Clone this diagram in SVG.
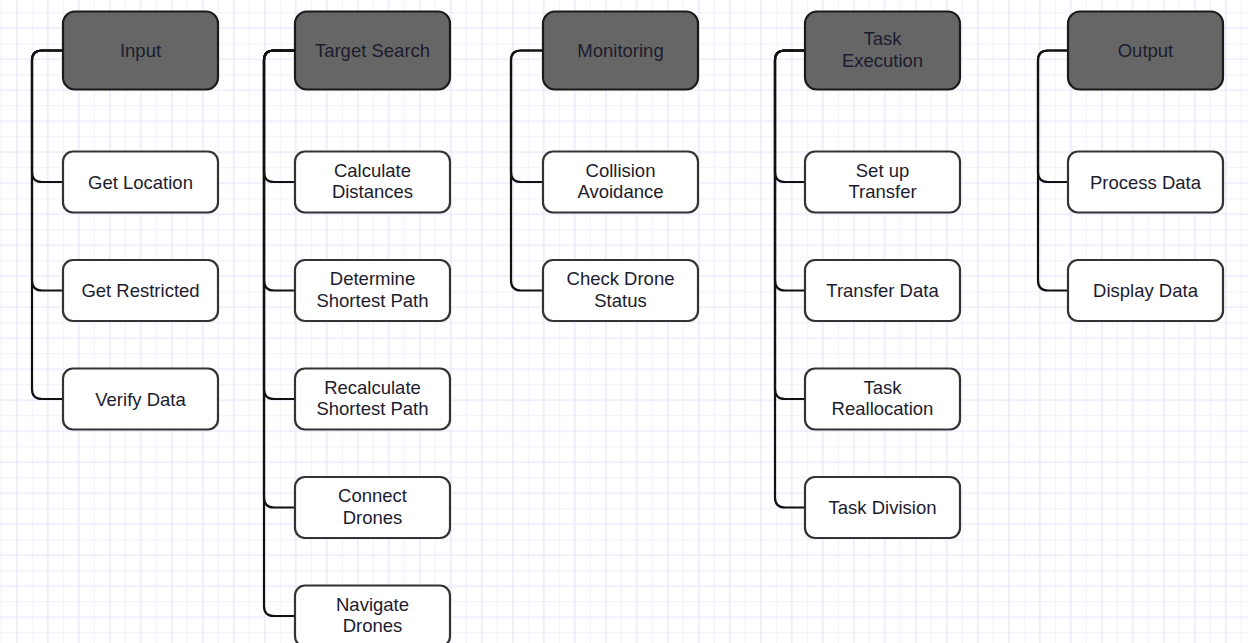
<svg xmlns="http://www.w3.org/2000/svg" width="1248" height="643" viewBox="0 0 1248 643">
<style>
.hdr{fill:#666666;stroke:#1a1a1a;stroke-width:2.2}
.box{fill:#ffffff;stroke:#333333;stroke-width:2.2}
.lbl{font-family:"Liberation Sans",Arial,sans-serif;font-size:18.5px;fill:#1c1c2e;text-anchor:middle}
.con{fill:none;stroke:#111111;stroke-width:2.2}
</style>
<defs>
<pattern id="grid" patternUnits="userSpaceOnUse" x="0.8" y="12.2" width="31" height="31">
<path d="M0.5 0V31M0 0.5H31" stroke="#f1f1ff" stroke-width="1.2" fill="none"/>
<path d="M16 0V31M0 16H31" stroke="#e4e4fb" stroke-width="1.2" fill="none"/>
</pattern>
</defs>
<rect width="1248" height="643" fill="#ffffff"/>
<rect width="1248" height="643" fill="url(#grid)"/>

<g id="connectors">
<!-- Input trunk x=32 -->
<path class="con" d="M63 50.5H42Q32 50.5 32 60.5V172Q32 182 42 182H63"/>
<path class="con" d="M63 50.5H42Q32 50.5 32 60.5V280.5Q32 290.5 42 290.5H63"/>
<path class="con" d="M63 50.5H42Q32 50.5 32 60.5V389Q32 399 42 399H63"/>
<!-- Target Search trunk x=264 -->
<path class="con" d="M295 50.5H274Q264 50.5 264 60.5V172Q264 182 274 182H295"/>
<path class="con" d="M295 50.5H274Q264 50.5 264 60.5V280.5Q264 290.5 274 290.5H295"/>
<path class="con" d="M295 50.5H274Q264 50.5 264 60.5V389Q264 399 274 399H295"/>
<path class="con" d="M295 50.5H274Q264 50.5 264 60.5V497.5Q264 507.5 274 507.5H295"/>
<path class="con" d="M295 50.5H274Q264 50.5 264 60.5V606Q264 616 274 616H295"/>
<!-- Monitoring trunk x=511 -->
<path class="con" d="M543 50.5H521Q511 50.5 511 60.5V172Q511 182 521 182H543"/>
<path class="con" d="M543 50.5H521Q511 50.5 511 60.5V280.5Q511 290.5 521 290.5H543"/>
<!-- Task Execution trunk x=775 -->
<path class="con" d="M805 50.5H785Q775 50.5 775 60.5V172Q775 182 785 182H805"/>
<path class="con" d="M805 50.5H785Q775 50.5 775 60.5V280.5Q775 290.5 785 290.5H805"/>
<path class="con" d="M805 50.5H785Q775 50.5 775 60.5V389Q775 399 785 399H805"/>
<path class="con" d="M805 50.5H785Q775 50.5 775 60.5V497.5Q775 507.5 785 507.5H805"/>
<!-- Output trunk x=1038 -->
<path class="con" d="M1068 50.5H1048Q1038 50.5 1038 60.5V172Q1038 182 1048 182H1068"/>
<path class="con" d="M1068 50.5H1048Q1038 50.5 1038 60.5V280.5Q1038 290.5 1048 290.5H1068"/>
</g>

<!-- Headers -->
<g id="input"><rect class="hdr" x="63" y="11.5" width="155" height="78" rx="12"/><text class="lbl" x="140.5" y="57.3">Input</text></g>
<g id="target-search"><rect class="hdr" x="295" y="11.5" width="155" height="78" rx="12"/><text class="lbl" x="372.5" y="57.3">Target Search</text></g>
<g id="monitoring"><rect class="hdr" x="543" y="11.5" width="155" height="78" rx="12"/><text class="lbl" x="620.5" y="57.3">Monitoring</text></g>
<g id="task-execution"><rect class="hdr" x="805" y="11.5" width="155" height="78" rx="12"/><text class="lbl" x="882.5" y="45">Task</text><text class="lbl" x="882.5" y="66.7">Execution</text></g>
<g id="output"><rect class="hdr" x="1068" y="11.5" width="155" height="78" rx="12"/><text class="lbl" x="1145.5" y="57.3">Output</text></g>

<!-- Input children -->
<g id="get-location"><rect class="box" x="63" y="151.5" width="155" height="61" rx="10"/><text class="lbl" x="140.5" y="188.5">Get Location</text></g>
<g id="get-restricted"><rect class="box" x="63" y="260" width="155" height="61" rx="10"/><text class="lbl" x="140.5" y="297">Get Restricted</text></g>
<g id="verify-data"><rect class="box" x="63" y="368.5" width="155" height="61" rx="10"/><text class="lbl" x="140.5" y="405.5">Verify Data</text></g>

<!-- Target Search children -->
<g id="calculate-distances"><rect class="box" x="295" y="151.5" width="155" height="61" rx="10"/><text class="lbl" x="372.5" y="176.7">Calculate</text><text class="lbl" x="372.5" y="198.4">Distances</text></g>
<g id="determine-shortest-path"><rect class="box" x="295" y="260" width="155" height="61" rx="10"/><text class="lbl" x="372.5" y="285.2">Determine</text><text class="lbl" x="372.5" y="306.9">Shortest Path</text></g>
<g id="recalculate-shortest-path"><rect class="box" x="295" y="368.5" width="155" height="61" rx="10"/><text class="lbl" x="372.5" y="393.7">Recalculate</text><text class="lbl" x="372.5" y="415.4">Shortest Path</text></g>
<g id="connect-drones"><rect class="box" x="295" y="477" width="155" height="61" rx="10"/><text class="lbl" x="372.5" y="502.2">Connect</text><text class="lbl" x="372.5" y="523.9">Drones</text></g>
<g id="navigate-drones"><rect class="box" x="295" y="585.5" width="155" height="61" rx="10"/><text class="lbl" x="372.5" y="610.7">Navigate</text><text class="lbl" x="372.5" y="632.4">Drones</text></g>

<!-- Monitoring children -->
<g id="collision-avoidance"><rect class="box" x="543" y="151.5" width="155" height="61" rx="10"/><text class="lbl" x="620.5" y="176.7">Collision</text><text class="lbl" x="620.5" y="198.4">Avoidance</text></g>
<g id="check-drone-status"><rect class="box" x="543" y="260" width="155" height="61" rx="10"/><text class="lbl" x="620.5" y="285.2">Check Drone</text><text class="lbl" x="620.5" y="306.9">Status</text></g>

<!-- Task Execution children -->
<g id="set-up-transfer"><rect class="box" x="805" y="151.5" width="155" height="61" rx="10"/><text class="lbl" x="882.5" y="176.7">Set up</text><text class="lbl" x="882.5" y="198.4">Transfer</text></g>
<g id="transfer-data"><rect class="box" x="805" y="260" width="155" height="61" rx="10"/><text class="lbl" x="882.5" y="297">Transfer Data</text></g>
<g id="task-reallocation"><rect class="box" x="805" y="368.5" width="155" height="61" rx="10"/><text class="lbl" x="882.5" y="393.7">Task</text><text class="lbl" x="882.5" y="415.4">Reallocation</text></g>
<g id="task-division"><rect class="box" x="805" y="477" width="155" height="61" rx="10"/><text class="lbl" x="882.5" y="514">Task Division</text></g>

<!-- Output children -->
<g id="process-data"><rect class="box" x="1068" y="151.5" width="155" height="61" rx="10"/><text class="lbl" x="1145.5" y="188.5">Process Data</text></g>
<g id="display-data"><rect class="box" x="1068" y="260" width="155" height="61" rx="10"/><text class="lbl" x="1145.5" y="297">Display Data</text></g>
</svg>
